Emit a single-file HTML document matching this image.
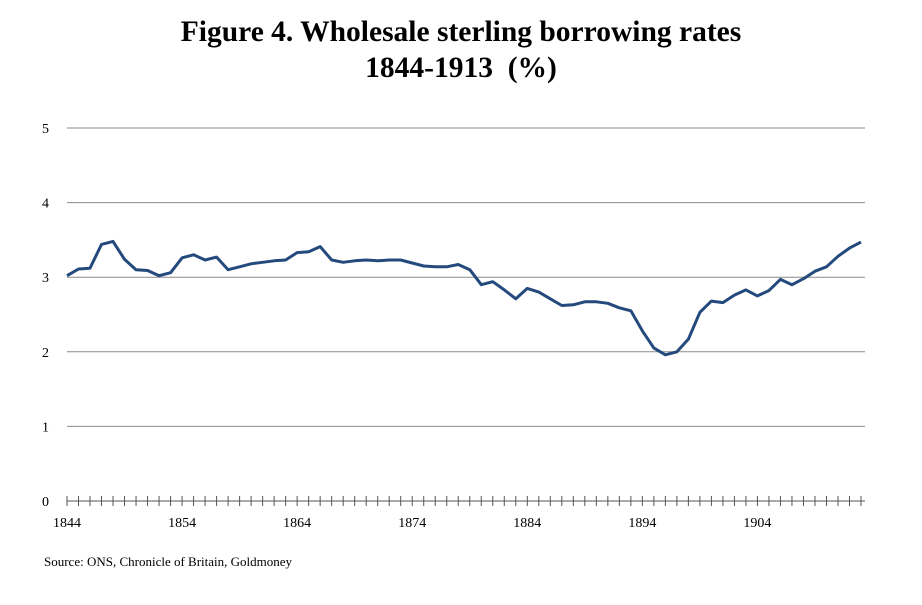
<!DOCTYPE html>
<html><head><meta charset="utf-8"><style>
body{margin:0;background:#fff;}
svg{display:block;font-family:"Liberation Serif",serif;}
</style></head><body>
<svg id="chart" width="922" height="605">
<text x="461" y="41" text-anchor="middle" font-size="29.5" font-weight="bold">Figure 4. Wholesale sterling borrowing rates</text>
<text x="461" y="77" text-anchor="middle" font-size="29.5" font-weight="bold">1844-1913&#160; (%)</text>
<g id="grid"></g><g id="axis"></g><g id="series"></g>
<text x="44" y="566" font-size="13">Source: ONS, Chronicle of Britain, Goldmoney</text>
</svg>
<script>
const startYear = 1844;
const rates = [3.02,3.11,3.12,3.44,3.48,3.24,3.10,3.09,3.02,3.06,3.26,3.30,3.23,3.27,3.10,3.14,3.18,3.20,3.22,3.23,3.33,3.34,3.41,3.23,3.20,3.22,3.23,3.22,3.23,3.23,3.19,3.15,3.14,3.14,3.17,3.10,2.90,2.94,2.83,2.71,2.85,2.80,2.71,2.62,2.63,2.67,2.67,2.65,2.59,2.55,2.28,2.05,1.96,2.00,2.17,2.53,2.68,2.66,2.76,2.83,2.75,2.82,2.97,2.90,2.98,3.08,3.14,3.28,3.39,3.47];
const yTicks = [0,1,2,3,4,5];
const xLabels = [1844,1854,1864,1874,1884,1894,1904];
const NS="http://www.w3.org/2000/svg";
const x0=67, yearW=(861-67)/69, y0=501, unit=(501-128)/5;
const xs=y=>x0+(y-startYear)*yearW;
const ys=v=>y0-v*unit;
const grid=document.getElementById('grid'), axis=document.getElementById('axis'), ser=document.getElementById('series');
function mk(tag,attrs,parent){const e=document.createElementNS(NS,tag);for(const k in attrs)e.setAttribute(k,attrs[k]);parent.appendChild(e);return e;}
yTicks.forEach(t=>{
  if(t>0){const l=mk('line',{x1:67,x2:865,y1:ys(t),y2:ys(t),stroke:'#8a8a8a','stroke-width':1},grid);
  
  }
  const tx=mk('text',{x:49,y:ys(t)+5,'text-anchor':'end','font-size':14},axis);
  tx.textContent=t;
  
  
});
const ax=mk('line',{x1:67,x2:865,y1:y0,y2:y0,stroke:'#555','stroke-width':1},axis);


for(let i=0;i<rates.length;i++){
  const t=mk('line',{x1:xs(startYear+i),x2:xs(startYear+i),y1:y0-5,y2:y0+5,stroke:'#555','stroke-width':1},axis);
  
  
}
xLabels.forEach(y=>{
  const tx=mk('text',{x:xs(y),y:y0+26,'text-anchor':'middle','font-size':14},axis);
  tx.textContent=y;
  
  
});
const d=rates.map((v,i)=>(i?'L':'M')+xs(startYear+i).toFixed(1)+','+ys(v).toFixed(1)).join('');
const p=mk('path',{d:d,fill:'none',stroke:'#24497d','stroke-width':3,'stroke-linejoin':'round'},ser);


</script>
</body></html>
